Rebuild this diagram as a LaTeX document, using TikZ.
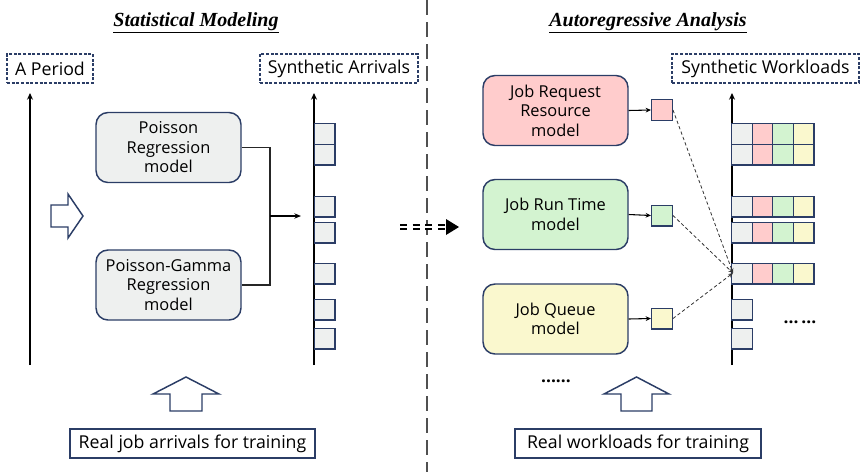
\documentclass[tikz,border=0pt]{standalone}
\usepackage{fontspec}
\setmainfont{Open Sans}
\newfontfamily\titlefont{Liberation Serif}
\usetikzlibrary{arrows.meta}
\definecolor{navy}{HTML}{2B3D66}
\definecolor{cgray}{HTML}{EEF0EF}
\definecolor{cpink}{HTML}{FFCCCC}
\definecolor{cgreen}{HTML}{D3F3D0}
\definecolor{cyellow}{HTML}{FAF8CE}
\definecolor{divgray}{HTML}{505050}
\tikzset{
  modelbox/.style={draw=navy, line width=1.1pt, rounded corners=9pt, align=center,
    minimum width=108.75pt, minimum height=52.5pt, inner sep=0pt, font=\fontsize{12.3}{14.6}\selectfont},
  labbox/.style={draw=navy, line width=0.8pt, dashed, dash pattern=on 2.2pt off 1.3pt,
    minimum height=21.75pt, inner sep=0pt, font=\fontsize{13.3}{15}\selectfont},
  trainbox/.style={draw=navy, line width=1pt, minimum height=21.75pt, inner sep=0pt,
    font=\fontsize{13.3}{15}\selectfont},
  cell/.style={draw=navy, line width=1.1pt, minimum size=15.4pt, inner sep=0pt},
  axis/.style={line width=1.1pt, -{Stealth[length=5pt,width=4.5pt]}},
  hollow/.style={draw=navy, line width=1.1pt, fill=white, line join=miter},
  titletext/.style={font=\titlefont\fontsize{15}{17}\selectfont},
}
\begin{document}
\begin{tikzpicture}[x=0.75pt,y=-0.75pt]
\useasboundingbox (0,0) rectangle (864,472);

% divider
\draw[divgray, line width=1.5pt, dash pattern=on 11pt off 5.5pt] (427,0) -- (427,472);

% titles
\node[titletext] (t1) at (196,23) {\underline{\textbf{\textit{Statistical Modeling}}}};
\node[titletext] (t2) at (648,23) {\underline{\textbf{\textit{Autoregressive Analysis}}}};

% label boxes
\node[labbox, minimum width=64.5pt] (per) at (50,68.5) {A Period};
\node[labbox, minimum width=118.5pt] (sa) at (339,68.5) {Synthetic Arrivals};
\node[labbox, minimum width=140.25pt] (sw) at (765.5,68.5) {Synthetic Workloads};

% axes
\coordinate (a1b) at (30,365); \coordinate (a1t) at (30,93);
\coordinate (a2b) at (314,365); \coordinate (a2t) at (314,93);
\coordinate (a3b) at (732,365); \coordinate (a3t) at (732,93);
\draw[axis] (a1b) -- (a1t);
\draw[axis] (a2b) -- (a2t);
\draw[axis] (a3b) -- (a3t);

% left models
\node[modelbox, fill=cgray] (pr) at (168.5,147.5) {Poisson\\Regression\\model};
\node[modelbox, fill=cgray] (pg) at (168.5,285) {Poisson-Gamma\\Regression\\model};
\coordinate (jx) at (270,216);
\coordinate (jt) at (301,216);
\draw[line width=0.8pt, black!85] (pr.east) -| (jx) |- (pg.east);
\draw[line width=0.8pt, -{Stealth[length=5pt,width=4pt]}] (jx) -- (jt);

% arrival cells
\foreach \y [count=\i] in {134,154.5,206.5,232.5,273.5,309.5,338.5}{
  \node[cell, fill=cgray] (ar\i) at (324.5,\y) {};
}

% right models
\node[modelbox, fill=cpink] (jr) at (555.5,110.5) {Job Request\\Resource\\model};
\node[modelbox, fill=cgreen] (jt2) at (555.5,214.5) {Job Run Time\\model};
\node[modelbox, fill=cyellow] (jq) at (555.5,319) {Job Queue\\model};

\node[cell, fill=cpink] (s1) at (662,110) {};
\node[cell, fill=cgreen] (s2) at (662,215.5) {};
\node[cell, fill=cyellow] (s3) at (662,318.5) {};
\draw[line width=0.8pt, -{Stealth[length=4pt,width=3.5pt]}] (jr.east) -- (s1.west);
\draw[line width=0.8pt, -{Stealth[length=4pt,width=3.5pt]}] (jt2.east) -- (s2.west);
\draw[line width=0.8pt, -{Stealth[length=4pt,width=3.5pt]}] (jq.east) -- (s3.west);

% workload rows
\foreach \y [count=\i] in {134,154.5,206.5,232.5,273.5}{
  \node[cell, fill=cgray] (w\i a) at (742,\y) {};
  \node[cell, fill=cpink] (w\i b) at (762.5,\y) {};
  \node[cell, fill=cgreen] (w\i c) at (783,\y) {};
  \node[cell, fill=cyellow] (w\i d) at (803.5,\y) {};
}
\node[cell, fill=cgray] (w6) at (742,309.5) {};
\node[cell, fill=cgray] (w7) at (742,338.5) {};

\coordinate (conv) at (733,273);
\draw[line width=0.6pt, black!80, dash pattern=on 2.5pt off 1.8pt, -{Stealth[length=3.5pt,width=3pt]}] (s1.east) -- (conv);
\draw[line width=0.6pt, black!80, dash pattern=on 2.5pt off 1.8pt, -{Stealth[length=3.5pt,width=3pt]}] (s2.east) -- (conv);
\draw[line width=0.6pt, black!80, dash pattern=on 2.5pt off 1.8pt, -{Stealth[length=3.5pt,width=3pt]}] (s3.east) -- (conv);

\node[font=\fontsize{13}{14}\selectfont] (dd1) at (800,322) {\textbf{...\,...}};
\node[font=\fontsize{13}{14}\selectfont] (dd2) at (556,381) {\textbf{......}};

% hollow arrows
\draw[hollow] (51,205) -- (68,205) -- (68,194) -- (83,216) -- (68,238) -- (68,227) -- (51,227) -- cycle;
\draw[hollow] (170,411) -- (170,394) -- (153,394) -- (186,377) -- (219,394) -- (202,394) -- (202,411) -- cycle;
\draw[hollow] (621,411) -- (621,394) -- (604,394) -- (636.5,377) -- (669,394) -- (652,394) -- (652,411) -- cycle;

% middle double dashed arrow
\coordinate (ma) at (400,227);
\coordinate (mb) at (446,227);
\draw[line width=1.3pt, double distance=1.4pt, dash pattern=on 5.25pt off 4.2pt] (ma) -- (mb);
\fill (446,219) -- (459,227) -- (446,235) -- cycle;

% training boxes
\node[trainbox, minimum width=183.75pt] (rj) at (192.5,443.5) {Real job arrivals for training};
\node[trainbox, minimum width=184.5pt] (rw) at (638,443.5) {Real workloads for training};
\end{tikzpicture}
\end{document}
